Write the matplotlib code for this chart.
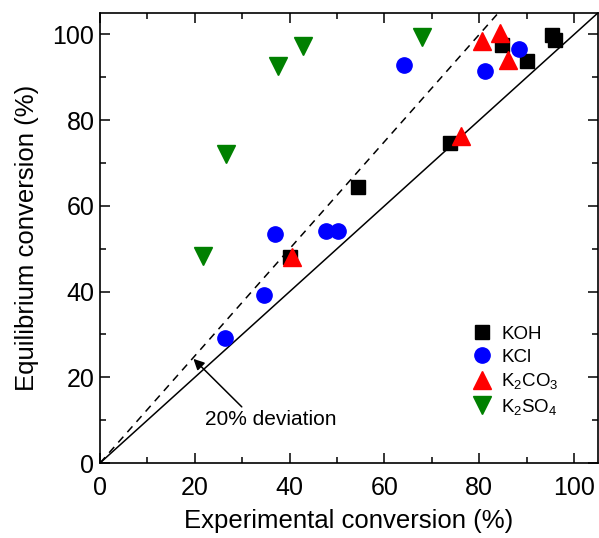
import matplotlib
matplotlib.use('Agg')
import matplotlib.pyplot as plt
from matplotlib.ticker import MultipleLocator

plt.rcParams['font.family'] = ['Liberation Sans', 'DejaVu Sans']
plt.rcParams['mathtext.fontset'] = 'custom'
plt.rcParams['mathtext.rm'] = 'Liberation Sans'
plt.rcParams['mathtext.it'] = 'Liberation Sans:italic'

# Datos (conversión experimental vs. equilibrio, %)
koh_x = [95.3, 96.0, 84.7, 90.0, 73.8, 54.4, 40.1]
koh_y = [99.9, 98.8, 97.6, 93.7, 74.7, 64.4, 48.0]

kcl_x = [26.4, 34.6, 36.9, 47.7, 50.2, 64.1, 81.2, 88.4]
kcl_y = [29.1, 39.1, 53.5, 54.2, 54.2, 92.8, 91.4, 96.5]

k2co3_x = [76.2, 40.5, 80.5, 84.4, 86.1]
k2co3_y = [76.3, 48.0, 98.4, 100.3, 94.1]

k2so4_x = [21.7, 26.6, 37.6, 42.8, 67.9]
k2so4_y = [48.4, 72.1, 92.6, 97.2, 99.5]

lim = 105
desvio = 0.8  # 20% de desvio: y = x / 0.8

fig = plt.figure(figsize=(5.99, 5.38), dpi=100)
ax = fig.add_axes([0.167, 0.1394, 0.831, 0.8364])

# linhas de referência
ax.plot([0, lim], [0, lim], color='k', lw=1.1, zorder=1)
ax.plot([0, lim * desvio], [0, lim], color='k', lw=1.1, ls=(0, (5, 4)), zorder=1)

ax.plot(koh_x, koh_y, ls='none', marker='s', ms=9.6, color='k', label='KOH')
ax.plot(kcl_x, kcl_y, ls='none', marker='o', ms=11, color='#0000FF', label='KCl')
ax.plot(k2co3_x, k2co3_y, ls='none', marker='^', ms=13, color='#FF0000',
        label='K$_2$CO$_3$')
ax.plot(k2so4_x, k2so4_y, ls='none', marker='v', ms=12.5, color='#008000',
        label='K$_2$SO$_4$')

# seta e texto da anotação
ax.annotate('', xy=(19.7, 24.3), xytext=(29.9, 13.1),
            arrowprops=dict(arrowstyle='-|>', color='k', lw=1.1, mutation_scale=16,
                            shrinkA=0, shrinkB=0))
ax.text(36.0, 10.2, '20% deviation', fontsize=15, ha='center', va='center')

ax.set_xlim(0, lim)
ax.set_ylim(0, lim)
ax.xaxis.set_major_locator(MultipleLocator(20))
ax.xaxis.set_minor_locator(MultipleLocator(10))
ax.yaxis.set_major_locator(MultipleLocator(20))
ax.yaxis.set_minor_locator(MultipleLocator(10))
ax.tick_params(which='both', direction='in', top=True, right=True, width=1.1)
ax.tick_params(which='major', length=7, labelsize=18)
ax.tick_params(axis='x', which='major', pad=9)
ax.tick_params(axis='y', which='major', pad=4)
ax.tick_params(which='minor', length=4)
for s in ax.spines.values():
    s.set_linewidth(1.2)

ax.set_xlabel('Experimental conversion (%)', fontsize=18.5, labelpad=7)
ax.set_ylabel('Equilibrium conversion (%)', fontsize=18.5, labelpad=10)

ax.legend(loc='lower right', bbox_to_anchor=(0.955, 0.065), frameon=False,
          fontsize=13.5, handletextpad=0.4, labelspacing=0.3, handlelength=1.2)

fig.savefig('out.png', dpi=100)
